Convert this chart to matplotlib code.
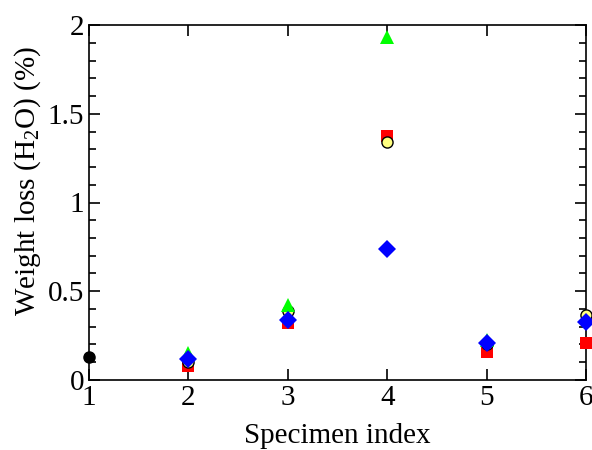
import matplotlib
matplotlib.use('Agg')
import matplotlib.pyplot as plt
from matplotlib.ticker import MultipleLocator

plt.rcParams['font.family'] = 'Liberation Serif'
plt.rcParams['mathtext.fontset'] = 'custom'
plt.rcParams['mathtext.rm'] = 'Liberation Serif'
plt.rcParams['mathtext.it'] = 'Liberation Serif:italic'

# weight loss per specimen, one list per sample series
x_black = [1]
y_black = [0.13]

x_square = [2, 3, 4, 5, 6]
y_square = [0.08, 0.32, 1.375, 0.16, 0.21]

x_circle = [2, 3, 4, 5, 6]
y_circle = [0.10, 0.39, 1.34, 0.20, 0.365]

x_tri = [2, 3, 4, 5]
y_tri = [0.15, 0.42, 1.93, 0.225]

x_diamond = [2, 3, 4, 5, 6]
y_diamond = [0.12, 0.34, 0.74, 0.21, 0.325]

yticks = [0, 0.5, 1, 1.5, 2]
ytick_labels = ['0', '0.5', '1', '1.5', '2']

fig = plt.figure(figsize=(5.92, 4.5), dpi=100)
ax = fig.add_axes([0.1503, 0.1556, 0.8404, 0.7888])

ax.plot(x_black, y_black, 'o', color='black', markersize=8, clip_on=False, zorder=3)
ax.plot(x_square, y_square, 's', color='red', markersize=8, markeredgewidth=0, clip_on=False, zorder=3)
ax.plot(x_circle, y_circle, 'o', markerfacecolor='#ffff80', markeredgecolor='black',
        markersize=8, markeredgewidth=1, clip_on=False, zorder=4)
ax.plot(x_tri, y_tri, '^', color='#00ff00', markersize=9.5, markeredgewidth=0, clip_on=False, zorder=5)
ax.plot(x_diamond, y_diamond, 'D', color='blue', markersize=9.5, markeredgewidth=0, clip_on=False, zorder=6)

ax.set_xlim(1, 6)
ax.set_ylim(0, 2)
ax.xaxis.set_major_locator(MultipleLocator(1))
ax.set_yticks(yticks)
ax.set_yticklabels(ytick_labels)
ax.yaxis.set_minor_locator(MultipleLocator(0.1))

ax.tick_params(which='both', direction='in', top=True, right=True, labelsize=21, width=1.2)
ax.tick_params(which='major', length=8)
ax.tick_params(which='minor', length=5)
for s in ax.spines.values():
    s.set_linewidth(1.2)

ax.set_xlabel('Specimen index', fontsize=21, labelpad=9)
ax.set_ylabel('Weight loss (H$_2$O) (%)', fontsize=21)
ax.yaxis.set_label_coords(-0.092, 0.56)

fig.savefig('out.png', dpi=100)
